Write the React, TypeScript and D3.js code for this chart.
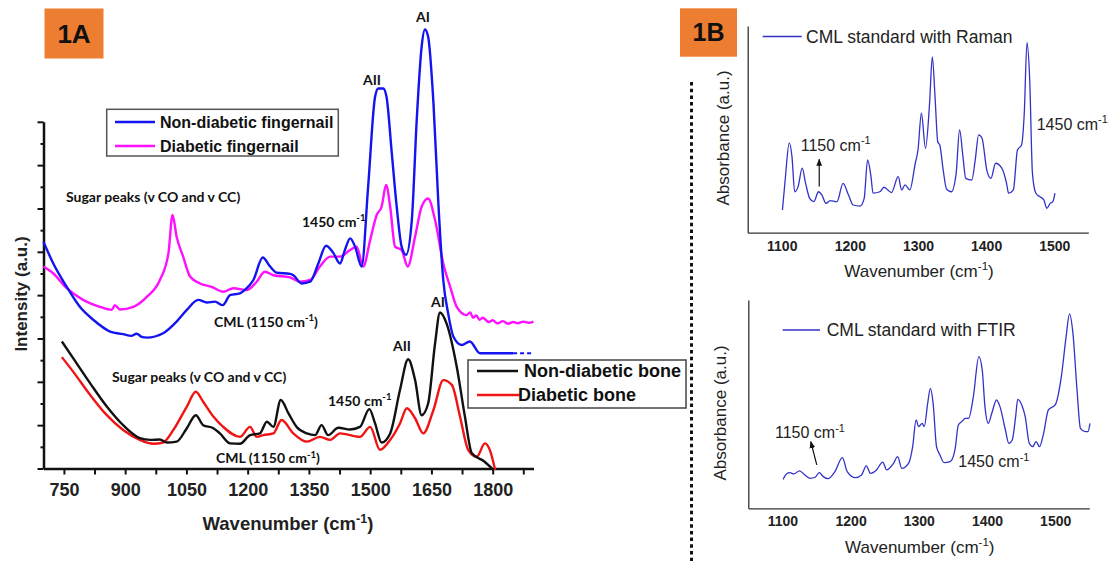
import React, { useEffect, useRef } from 'react';
import * as d3 from 'd3';

type Pt = [number, number];

// 1A: Raman spectra, [wavenumber (cm-1), intensity (a.u.)]
const nailNonDiabetic: Pt[] = [
  [700, 5.23], [724, 4.73], [757, 4.19], [789, 3.73], [822, 3.43], [863, 3.16], [895, 3.1], [915, 3.06],
  [928, 3.11], [942, 3.03], [953, 3.02], [993, 3.12], [1026, 3.39], [1051, 3.66], [1079, 3.89], [1100, 3.83],
  [1120, 3.85], [1139, 3.77], [1157, 4.0], [1181, 4.04], [1193, 4.12], [1214, 4.35], [1237, 4.87], [1255, 4.66],
  [1271, 4.52], [1304, 4.49], [1312, 4.46], [1332, 4.27], [1353, 4.31], [1373, 4.73], [1392, 5.14], [1410, 4.97],
  [1426, 4.73], [1438, 5.04], [1451, 5.31], [1463, 5.12], [1479, 4.66], [1495, 6.5], [1512, 8.58], [1520, 8.77],
  [1532, 8.77], [1540, 8.58], [1553, 7.27], [1565, 6.04], [1577, 5.12], [1588, 4.93], [1602, 5.73], [1614, 8.04],
  [1626, 9.73], [1634, 10.13], [1642, 9.96], [1655, 8.43], [1667, 6.12], [1679, 4.35], [1691, 3.58], [1704, 3.04],
  [1724, 2.85], [1744, 2.93], [1769, 2.66], [1850, 2.66], [1900, 2.66],
];

const nailDiabetic: Pt[] = [
  [700, 4.66], [724, 4.5], [757, 4.16], [797, 3.89], [838, 3.73], [867, 3.66], [875, 3.77], [887, 3.67],
  [920, 3.73], [953, 3.96], [985, 4.35], [1006, 4.97], [1016, 5.85], [1026, 5.35], [1042, 4.89], [1059, 4.43],
  [1083, 4.27], [1112, 4.19], [1140, 4.08], [1165, 4.16], [1198, 4.12], [1222, 4.31], [1242, 4.54], [1263, 4.46],
  [1304, 4.41], [1328, 4.31], [1353, 4.35], [1377, 4.66], [1402, 4.89], [1426, 4.89], [1451, 5.04], [1467, 5.12],
  [1483, 4.66], [1500, 5.27], [1516, 5.85], [1528, 6.04], [1539, 6.54], [1549, 6.04], [1561, 5.12], [1577, 5.04],
  [1592, 4.66], [1610, 5.35], [1626, 6.04], [1642, 6.23], [1659, 5.73], [1679, 4.73], [1696, 4.19], [1712, 3.73],
  [1736, 3.54], [1745, 3.6], [1752, 3.48], [1760, 3.53], [1768, 3.43], [1776, 3.48], [1790, 3.38], [1800, 3.42],
  [1812, 3.35], [1825, 3.4], [1838, 3.34], [1850, 3.38], [1862, 3.35], [1875, 3.39], [1888, 3.36], [1900, 3.39],
];

const boneNonDiabetic: Pt[] = [
  [745, 2.93], [773, 2.54], [814, 1.97], [855, 1.43], [895, 1.0], [936, 0.7], [961, 0.66], [985, 0.67],
  [1002, 0.6], [1026, 0.62], [1051, 0.93], [1073, 1.23], [1091, 1.0], [1116, 0.93], [1132, 0.81], [1157, 0.58],
  [1181, 0.57], [1206, 0.77], [1230, 0.81], [1247, 1.08], [1263, 0.96], [1281, 1.58], [1300, 1.27], [1320, 0.96],
  [1345, 0.81], [1365, 0.77], [1381, 1.0], [1397, 0.77], [1422, 0.94], [1451, 0.9], [1475, 0.96], [1498, 1.37],
  [1512, 1.04], [1528, 0.6], [1549, 0.81], [1573, 1.81], [1593, 2.52], [1610, 2.04], [1626, 1.23], [1642, 1.5],
  [1659, 2.89], [1671, 3.6], [1687, 3.35], [1712, 2.35], [1732, 1.2], [1749, 0.35], [1777, 0.18], [1802, -0.03],
];

const boneDiabetic: Pt[] = [
  [745, 2.57], [773, 2.23], [814, 1.7], [855, 1.23], [895, 0.89], [936, 0.66], [969, 0.57], [993, 0.6],
  [1018, 0.89], [1051, 1.43], [1073, 1.77], [1091, 1.54], [1116, 1.2], [1140, 0.96], [1181, 0.73], [1206, 0.96],
  [1222, 0.73], [1238, 0.77], [1263, 0.81], [1283, 1.12], [1312, 0.81], [1345, 0.62], [1377, 0.73], [1402, 0.66],
  [1426, 0.81], [1475, 0.73], [1500, 0.96], [1524, 0.43], [1549, 0.66], [1573, 1.04], [1590, 1.39], [1610, 1.16],
  [1630, 0.81], [1655, 1.35], [1679, 2.04], [1700, 1.93], [1720, 1.2], [1740, 0.43], [1761, 0.27], [1781, 0.58],
  [1793, 0.43], [1806, -0.03],
];

// 1B: CML standard spectra
const cmlRaman: Pt[] = [
  [1101, 11.0], [1105, 25.5], [1111, 43.5], [1115, 36.8], [1119, 19.8], [1124, 22.3], [1130, 31.2], [1135, 23.9],
  [1141, 16.6], [1147, 15.0], [1154, 19.8], [1159, 18.2], [1165, 14.2], [1171, 15.5], [1181, 15.0], [1190, 23.9],
  [1198, 18.2], [1205, 13.4], [1215, 12.9], [1221, 16.6], [1226, 35.2], [1231, 27.1], [1234, 19.1], [1244, 19.8],
  [1250, 22.0], [1261, 19.4], [1271, 27.1], [1276, 20.7], [1281, 23.1], [1288, 20.7], [1296, 33.6], [1300, 40.0],
  [1305, 57.8], [1311, 40.8], [1317, 62.6], [1321, 85.1], [1325, 65.8], [1329, 44.0], [1332, 42.4], [1337, 30.3],
  [1342, 21.0], [1349, 19.8], [1356, 28.7], [1361, 49.7], [1366, 36.8], [1370, 26.3], [1379, 25.5], [1384, 35.2],
  [1389, 47.3], [1394, 45.7], [1401, 30.3], [1407, 26.3], [1414, 33.6], [1423, 31.2], [1430, 23.9], [1433, 19.1],
  [1440, 20.7], [1446, 40.0], [1452, 42.4], [1456, 57.8], [1460, 91.9], [1464, 73.9], [1468, 28.7], [1473, 19.1],
  [1479, 17.4], [1485, 15.8], [1489, 11.8], [1494, 14.2], [1498, 15.0], [1501, 19.1],
];

const cmlFtir: Pt[] = [
  [1101, 13.9], [1106, 16.5], [1111, 17.1], [1117, 16.5], [1125, 18.0], [1133, 16.0], [1141, 14.4], [1148, 14.9],
  [1154, 17.1], [1160, 15.2], [1167, 14.2], [1177, 17.6], [1188, 24.3], [1195, 17.6], [1207, 14.7], [1216, 16.0],
  [1223, 20.4], [1229, 16.8], [1238, 18.4], [1247, 22.2], [1253, 18.4], [1263, 21.6], [1269, 24.8], [1275, 19.2],
  [1285, 21.6], [1291, 29.6], [1296, 42.4], [1300, 39.2], [1305, 40.8], [1308, 39.2], [1313, 50.4], [1317, 57.6],
  [1321, 50.4], [1326, 29.6], [1331, 25.6], [1337, 21.9], [1346, 22.4], [1353, 28.0], [1358, 40.0], [1363, 41.6],
  [1368, 43.2], [1373, 43.2], [1380, 53.6], [1388, 72.8], [1393, 66.4], [1397, 48.8], [1402, 40.8], [1407, 45.6],
  [1414, 52.0], [1419, 48.8], [1427, 37.6], [1432, 31.2], [1437, 32.8], [1442, 44.0], [1445, 52.3], [1451, 49.6],
  [1456, 44.0], [1462, 31.2], [1467, 29.6], [1472, 32.0], [1477, 29.6], [1483, 36.0], [1490, 47.2], [1500, 49.6],
  [1509, 63.2], [1516, 82.4], [1521, 93.3], [1526, 84.0], [1532, 56.8], [1537, 38.4], [1544, 36.8], [1548, 36.8],
  [1551, 40.8],
];

const ticks1A = [750, 900, 1050, 1200, 1350, 1500, 1650, 1800];
const ticks1B = [1100, 1200, 1300, 1400, 1500];

const ARIAL = 'Liberation Sans, Arial, sans-serif';
const CALIBRI = 'Lato, Carlito, sans-serif';

type Sel = d3.Selection<SVGGElement, unknown, null, undefined>;

// text with an optional superscript part, y is the vertical centre
function label(
  g: Sel, x: number, y: number, main: string, sup: string, tail: string,
  size: number, family: string, weight: string | number, anchor = 'start', fill = '#111',
) {
  const t = g.append('text')
    .attr('x', x)
    .attr('y', y + size * 0.35)
    .attr('font-family', family)
    .attr('font-size', size)
    .attr('font-weight', weight)
    .attr('text-anchor', anchor)
    .attr('fill', fill);
  t.append('tspan').text(main);
  if (sup) {
    t.append('tspan').attr('dy', -size * 0.4).attr('font-size', size * 0.68).text(sup);
    if (tail) t.append('tspan').attr('dy', size * 0.4).text(tail);
  }
  return t;
}

const App: React.FC = () => {
  const svgRef = useRef<SVGSVGElement | null>(null);

  useEffect(() => {
    const svg = d3.select(svgRef.current);
    svg.selectAll('*').remove();
    const root = svg.append('g') as unknown as Sel;

    root.append('defs').append('marker')
      .attr('id', 'arrowhead')
      .attr('viewBox', '0 0 10 10')
      .attr('refX', 9).attr('refY', 5)
      .attr('markerWidth', 6).attr('markerHeight', 6)
      .attr('orient', 'auto-start-reverse')
      .append('path').attr('d', 'M0,1 L10,5 L0,9 z').attr('fill', '#111');

    // ---------- panel 1A ----------
    const xA = d3.scaleLinear().domain([700, 1900]).range([43.5, 533.5]);
    const yA = d3.scaleLinear().domain([0, 8]).range([468.5, 121.8]);

    const lineA = d3.line<Pt>().x((d) => xA(d[0])).y((d) => yA(d[1])).curve(d3.curveMonotoneX);

    const gA = root.append('g') as unknown as Sel;

    const xAxisA = d3.axisBottom(xA)
      .tickValues(d3.range(750, 1900, 75))
      .tickSize(6)
      .tickSizeOuter(0)
      .tickPadding(9)
      .tickFormat((d) => (ticks1A.includes(Number(d)) ? String(d) : ''));
    const gxA = gA.append('g').attr('transform', `translate(0,${yA(0)})`).call(xAxisA);
    gxA.select('.domain').attr('stroke', '#111').attr('stroke-width', 2.5);
    gxA.selectAll('.tick line').attr('stroke', '#111').attr('stroke-width', 2);
    gxA.selectAll('.tick text')
      .attr('font-family', ARIAL).attr('font-size', 18).attr('font-weight', 'bold').attr('fill', '#222');

    const yAxisA = d3.axisLeft(yA)
      .tickValues(d3.range(0, 8.01, 0.5))
      .tickSize(6)
      .tickSizeOuter(0)
      .tickFormat(() => '');
    const gyA = gA.append('g').attr('transform', `translate(${xA(700)},0)`).call(yAxisA);
    gyA.select('.domain').attr('stroke', '#111').attr('stroke-width', 2.5);
    gyA.selectAll<SVGGElement, number>('.tick line')
      .attr('stroke', '#111').attr('stroke-width', 2)
      .attr('x2', (d) => (Number.isInteger(d) ? -6 : -3));

    const series1A: { data: Pt[]; color: string }[] = [
      { data: boneDiabetic, color: '#f01414' },
      { data: boneNonDiabetic, color: '#111111' },
      { data: nailDiabetic, color: '#ff10ff' },
      { data: nailNonDiabetic.filter((d) => d[0] <= 1850), color: '#1414f0' },
    ];
    series1A.forEach((s) => {
      gA.append('path')
        .attr('d', lineA(s.data))
        .attr('fill', 'none')
        .attr('stroke', s.color)
        .attr('stroke-width', 2.4)
        .attr('stroke-linejoin', 'round');
    });
    gA.append('path')
      .attr('d', lineA(nailNonDiabetic.filter((d) => d[0] >= 1850)))
      .attr('fill', 'none')
      .attr('stroke', '#1414f0')
      .attr('stroke-width', 2)
      .attr('stroke-dasharray', '4 3');

    // legends
    const legA1 = gA.append('g');
    legA1.append('rect').attr('x', 106.7).attr('y', 109.3).attr('width', 231.6).attr('height', 46.7)
      .attr('fill', '#fff').attr('stroke', '#555').attr('stroke-width', 1.5);
    [
      { name: 'Non-diabetic fingernail', color: '#1414f0', y: 122 },
      { name: 'Diabetic fingernail', color: '#ff10ff', y: 146 },
    ].forEach((l) => {
      legA1.append('line').attr('x1', 115).attr('x2', 155).attr('y1', l.y).attr('y2', l.y)
        .attr('stroke', l.color).attr('stroke-width', 2.4);
      label(legA1 as unknown as Sel, 160, l.y, l.name, '', '', 16, ARIAL, 'bold');
    });

    const legA2 = gA.append('g');
    legA2.append('rect').attr('x', 468).attr('y', 360).attr('width', 218).attr('height', 48)
      .attr('fill', '#fff').attr('stroke', '#444').attr('stroke-width', 1.5);
    [
      { name: 'Non-diabetic bone', color: '#111', y: 371, x1: 477, x2: 518, tx: 524 },
      { name: 'Diabetic bone', color: '#f01414', y: 395, x1: 477, x2: 520, tx: 518 },
    ].forEach((l) => {
      legA2.append('line').attr('x1', l.x1).attr('x2', l.x2).attr('y1', l.y).attr('y2', l.y)
        .attr('stroke', l.color).attr('stroke-width', 2.4);
      label(legA2 as unknown as Sel, l.tx, l.y, l.name, '', '', 18, ARIAL, 'bold');
    });

    // annotations
    const notes: [number, number, string, string, string, string][] = [
      [66, 197, 'Sugar peaks (v CO and v CC)', '', '', 'start'],
      [214, 322, 'CML (1150 cm', '-1', ')', 'start'],
      [302, 222, '1450 cm', '-1', '', 'start'],
      [372, 80, 'AII', '', '', 'middle'],
      [423, 17, 'AI', '', '', 'middle'],
      [112, 377, 'Sugar peaks (v CO and v CC)', '', '', 'start'],
      [216, 458.5, 'CML (1150 cm', '-1', ')', 'start'],
      [328, 401, '1450 cm', '-1', '', 'start'],
      [402, 346, 'AII', '', '', 'middle'],
      [438, 302, 'AI', '', '', 'middle'],
    ];
    notes.forEach(([x, y, m, s, t, a]) => label(gA, x, y, m, s, t, 14, CALIBRI, 'bold', a));

    label(gA, 288, 524, 'Wavenumber (cm', '-1', ')', 18.5, ARIAL, 'bold', 'middle', '#222');
    label(gA, 0, 0, 'Intensity (a.u.)', '', '', 17, ARIAL, 'bold', 'middle', '#222')
      .attr('transform', 'translate(21.5,294) rotate(-90)');

    // panel tag
    gA.append('rect').attr('x', 44.5).attr('y', 8.5).attr('width', 59).attr('height', 50).attr('fill', '#ED7D31');
    label(gA, 74, 33.5, '1A', '', '', 26, ARIAL, 'bold', 'middle', '#111');

    // separator
    root.append('line').attr('x1', 691.5).attr('x2', 691.5).attr('y1', 82).attr('y2', 561)
      .attr('stroke', '#111').attr('stroke-width', 3).attr('stroke-dasharray', '3.5 3.2');

    // ---------- panel 1B ----------
    const gB = root.append('g') as unknown as Sel;
    gB.append('rect').attr('x', 680).attr('y', 8.3).attr('width', 57).attr('height', 48.4).attr('fill', '#ED7D31');
    label(gB, 708.5, 32.5, '1B', '', '', 25, ARIAL, 'bold', 'middle', '#111');

    const panelsB = [
      {
        data: cmlRaman, name: 'CML standard with Raman', x0: 747.7, x1: 1088.3, yb: 232.7, yt: 26,
        legY: 36.5, legX: [762.7, 801.7, 806], titleY: 270.7, absX: 723.3, absY: 138,
        notes: [[800.7, 145], [1036.7, 124.3]], arrow: [[1155, 22.3], [1155, 35.5]],
      },
      {
        data: cmlFtir, name: 'CML standard with FTIR', x0: 748.3, x1: 1089.3, yb: 508.3, yt: 300,
        legY: 330, legX: [782.7, 820, 826.7], titleY: 546.7, absX: 720, absY: 413,
        notes: [[775, 432.7], [958.3, 461.7]], arrow: [[1150.4, 20.8], [1141.6, 32.0]],
      },
    ];

    panelsB.forEach((p) => {
      const x = d3.scaleLinear().domain([1050, 1550]).range([p.x0, p.x1]);
      const y = d3.scaleLinear().domain([0, 100]).range([p.yb, p.yt]);

      const gx = gB.append('g').attr('transform', `translate(0,${p.yb})`)
        .call(d3.axisBottom(x).tickValues(ticks1B).tickFormat(d3.format('d'))
          .tickSize(0).tickSizeOuter(0).tickPadding(8));
      gx.select('.domain').attr('stroke', '#333').attr('stroke-width', 1.3);
      gx.selectAll('.tick text')
        .attr('font-family', ARIAL).attr('font-size', 14).attr('font-weight', 'bold').attr('fill', '#222');

      const gy = gB.append('g').attr('transform', `translate(${p.x0},0)`)
        .call(d3.axisLeft(y).tickValues([]).tickSizeOuter(0));
      gy.select('.domain').attr('stroke', '#333').attr('stroke-width', 1.3);

      const line = d3.line<Pt>().x((d) => x(d[0])).y((d) => y(d[1])).curve(d3.curveMonotoneX);
      gB.append('path')
        .attr('d', line(p.data))
        .attr('fill', 'none')
        .attr('stroke', '#3232c8')
        .attr('stroke-width', 1.3);

      gB.append('line').attr('x1', p.legX[0]).attr('x2', p.legX[1]).attr('y1', p.legY).attr('y2', p.legY)
        .attr('stroke', '#3232c8').attr('stroke-width', 1.3);
      label(gB, p.legX[2], p.legY, p.name, '', '', 17.5, ARIAL, 'normal', 'start', '#222');

      label(gB, p.notes[0][0], p.notes[0][1], '1150 cm', '-1', '', 16, ARIAL, 'normal', 'start', '#222');
      label(gB, p.notes[1][0], p.notes[1][1], '1450 cm', '-1', '', 16, ARIAL, 'normal', 'start', '#222');

      gB.append('line')
        .attr('x1', x(p.arrow[0][0])).attr('y1', y(p.arrow[0][1]))
        .attr('x2', x(p.arrow[1][0])).attr('y2', y(p.arrow[1][1]))
        .attr('stroke', '#111').attr('stroke-width', 1.2)
        .attr('marker-end', 'url(#arrowhead)');

      label(gB, (p.x0 + p.x1) / 2 + 1, p.titleY, 'Wavenumber (cm', '-1', ')', 17, ARIAL, 'normal', 'middle', '#222');
      label(gB, 0, 0, 'Absorbance (a.u.)', '', '', 17, ARIAL, 'normal', 'middle', '#222')
        .attr('transform', `translate(${p.absX},${p.absY}) rotate(-90)`);
    });
  }, []);

  return (
    <svg
      ref={svgRef}
      width={1117}
      height={561}
      style={{ position: 'absolute', left: 0, top: 0, display: 'block', background: '#fff' }}
    />
  );
};

export default App;
